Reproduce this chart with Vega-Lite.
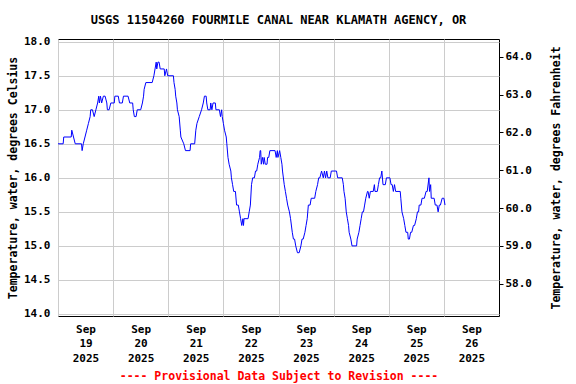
{
 "$schema": "https://vega.github.io/schema/vega-lite/v6.json",
 "width": 441, "height": 277,
 "autosize": {"type": "none"},
 "padding": {"left": 58, "top": 39, "right": 77, "bottom": 68},
 "title": {"text": "USGS 11504260 FOURMILE CANAL NEAR KLAMATH AGENCY, OR", "font": "DejaVu Sans Mono", "fontSize": 12, "fontWeight": "bold", "offset": 15, "dy": 6, "color": "black"},
 "config": {
  "view": {"stroke": "black", "strokeWidth": 1},
  "axis": {"labelFont": "DejaVu Sans Mono", "labelFontWeight": "bold", "labelFontSize": 11, "labelColor": "black", "titleFont": "DejaVu Sans Mono", "titleFontWeight": "bold", "titleFontSize": 11.5, "titleColor": "black", "gridColor": "#cccccc", "gridOpacity": 1, "domain": false}
 },
 "layer": [
  {
   "data": {"values": [
    {"t":"2025-09-19T00:00","c":16.5},{"t":"2025-09-19T02:15","c":16.5},{"t":"2025-09-19T02:30","c":16.6},{"t":"2025-09-19T05:45","c":16.6},{"t":"2025-09-19T06:00","c":16.7},{"t":"2025-09-19T06:45","c":16.6},{"t":"2025-09-19T07:30","c":16.5},{"t":"2025-09-19T10:15","c":16.5},{"t":"2025-09-19T10:30","c":16.4},{"t":"2025-09-19T11:00","c":16.5},{"t":"2025-09-19T11:45","c":16.6},{"t":"2025-09-19T12:30","c":16.7},{"t":"2025-09-19T13:15","c":16.8},{"t":"2025-09-19T14:00","c":16.9},{"t":"2025-09-19T14:15","c":17.0},{"t":"2025-09-19T15:00","c":17.0},{"t":"2025-09-19T15:45","c":16.9},{"t":"2025-09-19T16:30","c":17.0},{"t":"2025-09-19T17:15","c":17.1},{"t":"2025-09-19T17:45","c":17.2},{"t":"2025-09-19T18:00","c":17.1},{"t":"2025-09-19T18:30","c":17.2},{"t":"2025-09-19T19:00","c":17.1},{"t":"2025-09-19T19:45","c":17.2},{"t":"2025-09-19T20:30","c":17.2},{"t":"2025-09-19T21:15","c":17.1},{"t":"2025-09-19T21:30","c":17.0},{"t":"2025-09-19T22:15","c":17.0},{"t":"2025-09-19T23:00","c":17.1},
    {"t":"2025-09-20T00:30","c":17.1},{"t":"2025-09-20T00:45","c":17.2},{"t":"2025-09-20T02:15","c":17.2},{"t":"2025-09-20T02:45","c":17.1},{"t":"2025-09-20T04:00","c":17.1},{"t":"2025-09-20T04:30","c":17.2},{"t":"2025-09-20T06:30","c":17.2},{"t":"2025-09-20T07:15","c":17.1},{"t":"2025-09-20T08:30","c":17.1},{"t":"2025-09-20T08:45","c":17.0},{"t":"2025-09-20T09:15","c":16.9},{"t":"2025-09-20T10:00","c":16.9},{"t":"2025-09-20T10:30","c":17.0},{"t":"2025-09-20T12:00","c":17.0},{"t":"2025-09-20T12:45","c":17.1},{"t":"2025-09-20T13:15","c":17.2},{"t":"2025-09-20T13:30","c":17.3},{"t":"2025-09-20T14:15","c":17.4},{"t":"2025-09-20T17:00","c":17.4},{"t":"2025-09-20T17:45","c":17.5},{"t":"2025-09-20T18:15","c":17.6},{"t":"2025-09-20T18:45","c":17.7},{"t":"2025-09-20T19:00","c":17.6},{"t":"2025-09-20T19:30","c":17.7},{"t":"2025-09-20T20:00","c":17.7},{"t":"2025-09-20T20:30","c":17.6},{"t":"2025-09-20T22:15","c":17.6},{"t":"2025-09-20T22:30","c":17.5},{"t":"2025-09-20T23:15","c":17.6},{"t":"2025-09-20T23:45","c":17.5},
    {"t":"2025-09-21T02:15","c":17.5},{"t":"2025-09-21T02:30","c":17.4},{"t":"2025-09-21T03:00","c":17.3},{"t":"2025-09-21T03:15","c":17.2},{"t":"2025-09-21T03:45","c":17.1},{"t":"2025-09-21T04:00","c":17.0},{"t":"2025-09-21T04:45","c":16.9},{"t":"2025-09-21T05:15","c":16.7},{"t":"2025-09-21T05:30","c":16.6},{"t":"2025-09-21T06:45","c":16.5},{"t":"2025-09-21T07:30","c":16.4},{"t":"2025-09-21T09:30","c":16.4},{"t":"2025-09-21T09:45","c":16.5},{"t":"2025-09-21T11:30","c":16.5},{"t":"2025-09-21T11:45","c":16.6},{"t":"2025-09-21T12:00","c":16.7},{"t":"2025-09-21T12:30","c":16.8},{"t":"2025-09-21T13:30","c":16.9},{"t":"2025-09-21T14:30","c":17.0},{"t":"2025-09-21T15:15","c":17.1},{"t":"2025-09-21T15:45","c":17.2},{"t":"2025-09-21T16:30","c":17.2},{"t":"2025-09-21T16:45","c":17.1},{"t":"2025-09-21T17:15","c":17.0},{"t":"2025-09-21T18:15","c":17.0},{"t":"2025-09-21T18:30","c":17.1},{"t":"2025-09-21T19:00","c":17.0},{"t":"2025-09-21T19:30","c":17.1},{"t":"2025-09-21T20:30","c":17.1},{"t":"2025-09-21T20:45","c":17.0},{"t":"2025-09-21T22:15","c":17.0},{"t":"2025-09-21T22:45","c":16.9},{"t":"2025-09-21T23:15","c":17.0},{"t":"2025-09-21T23:30","c":16.9},
    {"t":"2025-09-22T00:00","c":16.8},{"t":"2025-09-22T00:30","c":16.7},{"t":"2025-09-22T01:15","c":16.6},{"t":"2025-09-22T01:30","c":16.5},{"t":"2025-09-22T02:00","c":16.3},{"t":"2025-09-22T02:30","c":16.2},{"t":"2025-09-22T03:15","c":16.1},{"t":"2025-09-22T03:30","c":16.0},{"t":"2025-09-22T04:00","c":15.9},{"t":"2025-09-22T04:30","c":15.8},{"t":"2025-09-22T05:15","c":15.8},{"t":"2025-09-22T05:45","c":15.6},{"t":"2025-09-22T06:30","c":15.6},{"t":"2025-09-22T07:00","c":15.5},{"t":"2025-09-22T07:30","c":15.4},{"t":"2025-09-22T08:00","c":15.3},{"t":"2025-09-22T08:30","c":15.4},{"t":"2025-09-22T08:45","c":15.3},{"t":"2025-09-22T09:00","c":15.4},{"t":"2025-09-22T10:45","c":15.4},{"t":"2025-09-22T11:15","c":15.5},{"t":"2025-09-22T11:45","c":15.6},{"t":"2025-09-22T12:15","c":15.9},{"t":"2025-09-22T12:45","c":16.0},{"t":"2025-09-22T13:30","c":16.0},{"t":"2025-09-22T14:00","c":16.1},{"t":"2025-09-22T14:30","c":16.1},{"t":"2025-09-22T15:00","c":16.2},{"t":"2025-09-22T15:45","c":16.3},{"t":"2025-09-22T16:00","c":16.4},{"t":"2025-09-22T16:15","c":16.4},{"t":"2025-09-22T16:30","c":16.2},{"t":"2025-09-22T17:00","c":16.3},{"t":"2025-09-22T17:30","c":16.2},{"t":"2025-09-22T17:45","c":16.3},{"t":"2025-09-22T18:15","c":16.2},{"t":"2025-09-22T19:00","c":16.2},{"t":"2025-09-22T19:15","c":16.3},{"t":"2025-09-22T19:45","c":16.3},{"t":"2025-09-22T20:15","c":16.4},{"t":"2025-09-22T22:30","c":16.4},{"t":"2025-09-22T23:00","c":16.3},{"t":"2025-09-22T23:30","c":16.4},{"t":"2025-09-22T23:45","c":16.3},
    {"t":"2025-09-23T00:30","c":16.4},{"t":"2025-09-23T01:00","c":16.3},{"t":"2025-09-23T01:30","c":16.2},{"t":"2025-09-23T01:45","c":16.1},{"t":"2025-09-23T02:30","c":15.9},{"t":"2025-09-23T03:00","c":15.8},{"t":"2025-09-23T03:30","c":15.7},{"t":"2025-09-23T04:00","c":15.6},{"t":"2025-09-23T04:45","c":15.5},{"t":"2025-09-23T05:15","c":15.4},{"t":"2025-09-23T06:00","c":15.2},{"t":"2025-09-23T06:30","c":15.1},{"t":"2025-09-23T07:00","c":15.1},{"t":"2025-09-23T07:30","c":15.0},{"t":"2025-09-23T08:15","c":14.9},{"t":"2025-09-23T09:00","c":14.9},{"t":"2025-09-23T09:45","c":15.0},{"t":"2025-09-23T10:15","c":15.1},{"t":"2025-09-23T10:45","c":15.1},{"t":"2025-09-23T11:30","c":15.2},{"t":"2025-09-23T12:00","c":15.3},{"t":"2025-09-23T12:30","c":15.4},{"t":"2025-09-23T13:00","c":15.6},{"t":"2025-09-23T13:45","c":15.6},{"t":"2025-09-23T14:15","c":15.7},{"t":"2025-09-23T15:45","c":15.7},{"t":"2025-09-23T16:15","c":15.8},{"t":"2025-09-23T17:00","c":15.9},{"t":"2025-09-23T17:30","c":16.0},{"t":"2025-09-23T18:00","c":16.0},{"t":"2025-09-23T18:45","c":16.1},{"t":"2025-09-23T19:30","c":16.0},{"t":"2025-09-23T20:00","c":16.1},{"t":"2025-09-23T20:30","c":16.0},{"t":"2025-09-23T21:00","c":16.1},{"t":"2025-09-23T21:30","c":16.0},{"t":"2025-09-23T22:30","c":16.0},{"t":"2025-09-23T23:00","c":16.1},
    {"t":"2025-09-24T01:15","c":16.1},{"t":"2025-09-24T01:45","c":16.0},{"t":"2025-09-24T03:45","c":16.0},{"t":"2025-09-24T04:15","c":15.9},{"t":"2025-09-24T04:30","c":15.8},{"t":"2025-09-24T05:00","c":15.7},{"t":"2025-09-24T05:30","c":15.5},{"t":"2025-09-24T06:00","c":15.4},{"t":"2025-09-24T06:30","c":15.3},{"t":"2025-09-24T06:45","c":15.2},{"t":"2025-09-24T07:30","c":15.1},{"t":"2025-09-24T08:00","c":15.0},{"t":"2025-09-24T10:00","c":15.0},{"t":"2025-09-24T10:15","c":15.1},{"t":"2025-09-24T11:00","c":15.2},{"t":"2025-09-24T11:30","c":15.3},{"t":"2025-09-24T12:00","c":15.4},{"t":"2025-09-24T12:30","c":15.5},{"t":"2025-09-24T13:00","c":15.5},{"t":"2025-09-24T13:30","c":15.6},{"t":"2025-09-24T14:00","c":15.7},{"t":"2025-09-24T14:45","c":15.8},{"t":"2025-09-24T15:00","c":15.8},{"t":"2025-09-24T15:30","c":15.7},{"t":"2025-09-24T16:00","c":15.8},{"t":"2025-09-24T17:15","c":15.8},{"t":"2025-09-24T17:45","c":15.9},{"t":"2025-09-24T18:00","c":15.8},{"t":"2025-09-24T19:00","c":15.8},{"t":"2025-09-24T19:30","c":15.9},{"t":"2025-09-24T20:00","c":16.0},{"t":"2025-09-24T20:30","c":16.0},{"t":"2025-09-24T21:00","c":16.1},{"t":"2025-09-24T21:30","c":15.9},{"t":"2025-09-24T22:30","c":15.9},{"t":"2025-09-24T23:00","c":16.0},
    {"t":"2025-09-25T00:30","c":16.0},{"t":"2025-09-25T01:00","c":15.9},{"t":"2025-09-25T01:30","c":15.9},{"t":"2025-09-25T02:00","c":15.8},{"t":"2025-09-25T02:30","c":15.9},{"t":"2025-09-25T03:00","c":15.8},{"t":"2025-09-25T05:00","c":15.8},{"t":"2025-09-25T05:15","c":15.7},{"t":"2025-09-25T05:45","c":15.5},{"t":"2025-09-25T06:30","c":15.4},{"t":"2025-09-25T07:00","c":15.3},{"t":"2025-09-25T07:30","c":15.2},{"t":"2025-09-25T08:15","c":15.2},{"t":"2025-09-25T08:30","c":15.1},{"t":"2025-09-25T09:00","c":15.1},{"t":"2025-09-25T09:30","c":15.2},{"t":"2025-09-25T10:00","c":15.2},{"t":"2025-09-25T10:45","c":15.3},{"t":"2025-09-25T11:15","c":15.3},{"t":"2025-09-25T12:00","c":15.4},{"t":"2025-09-25T12:30","c":15.5},{"t":"2025-09-25T13:00","c":15.5},{"t":"2025-09-25T13:15","c":15.6},{"t":"2025-09-25T14:00","c":15.6},{"t":"2025-09-25T14:30","c":15.7},{"t":"2025-09-25T15:30","c":15.7},{"t":"2025-09-25T16:15","c":15.8},{"t":"2025-09-25T16:45","c":15.8},{"t":"2025-09-25T17:30","c":16.0},{"t":"2025-09-25T17:45","c":15.8},{"t":"2025-09-25T18:15","c":15.9},{"t":"2025-09-25T18:30","c":15.7},{"t":"2025-09-25T19:45","c":15.7},{"t":"2025-09-25T20:15","c":15.6},{"t":"2025-09-25T21:00","c":15.6},{"t":"2025-09-25T21:30","c":15.5},{"t":"2025-09-25T22:00","c":15.6},{"t":"2025-09-25T22:30","c":15.6},{"t":"2025-09-25T23:15","c":15.7},{"t":"2025-09-26T00:00","c":15.7},{"t":"2025-09-26T00:30","c":15.6}
   ]},
   "mark": {"type": "line", "color": "#0000ff", "strokeWidth": 1, "clip": true},
   "encoding": {
    "x": {"field": "t", "type": "temporal",
     "scale": {"domain": [{"year": 2025, "month": 9, "date": 19}, {"year": 2025, "month": 9, "date": 27}]},
     "axis": {"values": [{"year": 2025, "month": 9, "date": 19}, {"year": 2025, "month": 9, "date": 20}, {"year": 2025, "month": 9, "date": 21}, {"year": 2025, "month": 9, "date": 22}, {"year": 2025, "month": 9, "date": 23}, {"year": 2025, "month": 9, "date": 24}, {"year": 2025, "month": 9, "date": 25}, {"year": 2025, "month": 9, "date": 26}],
      "grid": true, "ticks": false, "labelOffset": 27.5, "labelPadding": 7, "labelLineHeight": 14.5, "labelBaseline": "top", "labelAlign": "center", "labelFlush": false, "labelOverlap": false,
      "labelExpr": "[timeFormat(datum.value, '%b'), timeFormat(datum.value, '%d'), timeFormat(datum.value, '%Y')]",
      "title": "---- Provisional Data Subject to Revision ----", "titleColor": "#ff0000", "titlePadding": 7}},
    "y": {"field": "c", "type": "quantitative",
     "scale": {"domain": [13.97, 18.04], "nice": false, "zero": false},
     "axis": {"values": [14, 14.5, 15, 15.5, 16, 16.5, 17, 17.5, 18], "format": ".1f", "grid": true, "ticks": false, "labelPadding": 8, "title": "Temperature, water, degrees Celsius", "titlePadding": 5}}
   }
  },
  {
   "data": {"values": [{"f": 58}, {"f": 64}]},
   "mark": {"type": "point", "opacity": 0},
   "encoding": {
    "y": {"field": "f", "type": "quantitative",
     "scale": {"domain": [57.146, 64.472], "nice": false, "zero": false},
     "axis": {"orient": "right", "values": [58, 59, 60, 61, 62, 63, 64], "format": ".1f", "grid": false, "ticks": true, "tickSize": 4, "tickColor": "black", "labelPadding": 2, "title": "Temperature, water, degrees Fahrenheit", "titleAngle": -90, "titlePadding": 30}}
   }
  }
 ],
 "resolve": {"scale": {"y": "independent"}}
}
